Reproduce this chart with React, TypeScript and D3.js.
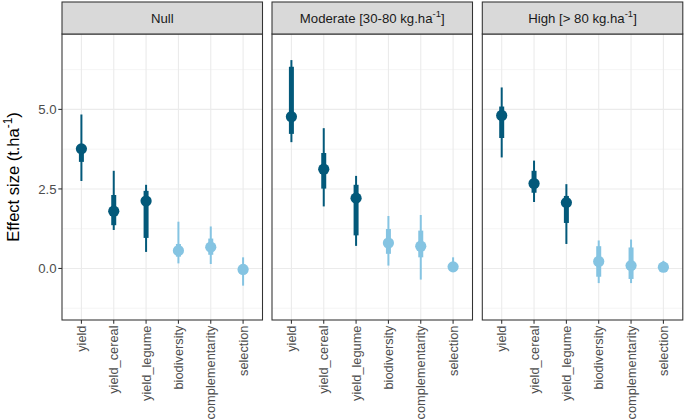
import React from "react";
import * as d3 from "d3";

// categories on the x axis of every facet
const categories = ["yield", "yield_cereal", "yield_legume", "biodiversity", "complementarity", "selection"];
const darkCategories = ["yield", "yield_cereal", "yield_legume"];
const facetNames = ["Null", "Moderate", "High"];
const yTicks = [0, 2.5, 5];
const yMinor = [-1.25, 1.25, 3.75, 6.25];

// Null
const nullEst = [3.76, 1.8, 2.12, 0.56, 0.67, -0.03];
const nullInner = [[3.35, 3.91], [1.36, 2.31], [0.96, 2.44], [0.37, 0.77], [0.43, 0.94], [-0.18, 0.12]];
const nullOuter = [[2.75, 4.84], [1.21, 3.07], [0.52, 2.63], [0.16, 1.47], [0.14, 1.32], [-0.54, 0.35]];

// Moderate [30-80 kg.ha-1]
const modEst = [4.77, 3.12, 2.21, 0.8, 0.7, 0.05];
const modInner = [[4.23, 6.34], [2.51, 3.63], [1.04, 2.63], [0.46, 1.24], [0.35, 1.19], [-0.02, 0.15]];
const modOuter = [[3.97, 6.55], [1.95, 4.41], [0.71, 2.91], [0.09, 1.65], [-0.35, 1.68], [-0.1, 0.35]];

// High [> 80 kg.ha-1]
const highEst = [4.81, 2.67, 2.07, 0.22, 0.09, 0.04];
const highInner = [[4.1, 5.09], [2.38, 3.07], [1.43, 2.28], [-0.26, 0.7], [-0.33, 0.66], [-0.02, 0.12]];
const highOuter = [[3.49, 5.69], [2.09, 3.39], [0.77, 2.65], [-0.46, 0.88], [-0.46, 0.91], [-0.1, 0.24]];

const DARK = "#03597A";
const LIGHT = "#85C4E2";
const FONT = "'Liberation Sans', Arial, sans-serif";

function Superscript({ pre, post, size }: { pre: string; post: string; size: number }) {
  return (
    <>
      {pre}
      <tspan fontSize={size * 0.72} dy={-size * 0.45}>-1</tspan>
      <tspan dy={size * 0.45}>{post}</tspan>
    </>
  );
}

export default function App() {
  const width = 685;
  const height = 420;
  const panelTop = 34;
  const panelBottom = 320;
  const stripTop = 2;
  const panelW = 200.5;
  const panelLefts = [62, 272, 482.3];

  const y = d3.scaleLinear().domain([-1.62, 7.37]).range([panelBottom, panelTop]);

  const facets = [
    { name: facetNames[0], est: nullEst, inner: nullInner, outer: nullOuter },
    { name: facetNames[1], est: modEst, inner: modInner, outer: modOuter },
    { name: facetNames[2], est: highEst, inner: highInner, outer: highOuter },
  ];

  const stripLabel = (i: number) => {
    if (i === 0) return "Null";
    if (i === 1) return <Superscript pre="Moderate [30-80 kg.ha" post="]" size={13.2} />;
    return <Superscript pre="High [> 80 kg.ha" post="]" size={13.2} />;
  };

  return (
    <svg width={width} height={height} style={{ position: "absolute", left: 0, top: 0 }} fontFamily={FONT}>
      <rect width={width} height={height} fill="white" />
      {facets.map((f, fi) => {
        const left = panelLefts[fi];
        const x = d3.scalePoint<string>().domain(categories).range([left, left + panelW]).padding(0.6);
        return (
          <g key={f.name}>
            {/* grid */}
            {yMinor.map((t) => (
              <line key={"m" + t} x1={left} x2={left + panelW} y1={y(t)} y2={y(t)} stroke="#EBEBEB" strokeWidth={0.55} />
            ))}
            {yTicks.map((t) => (
              <line key={"M" + t} x1={left} x2={left + panelW} y1={y(t)} y2={y(t)} stroke="#EBEBEB" strokeWidth={1.1} />
            ))}
            {categories.map((c) => (
              <line key={"v" + c} x1={x(c)} x2={x(c)} y1={panelTop} y2={panelBottom} stroke="#EBEBEB" strokeWidth={1.1} />
            ))}
            {/* intervals */}
            {categories.map((c, i) => {
              const col = darkCategories.includes(c) ? DARK : LIGHT;
              const cx = x(c) as number;
              return (
                <g key={"d" + c}>
                  <line x1={cx} x2={cx} y1={y(f.outer[i][0])} y2={y(f.outer[i][1])} stroke={col} strokeWidth={2} />
                  <line x1={cx} x2={cx} y1={y(f.inner[i][0])} y2={y(f.inner[i][1])} stroke={col} strokeWidth={5} />
                  <circle cx={cx} cy={y(f.est[i])} r={5.6} fill={col} />
                </g>
              );
            })}
            {/* border */}
            <rect x={left} y={panelTop} width={panelW} height={panelBottom - panelTop} fill="none" stroke="#333333" strokeWidth={1.07} />
            {/* strip */}
            <rect x={left} y={stripTop} width={panelW} height={panelTop - stripTop} fill="#D9D9D9" stroke="#333333" strokeWidth={1.07} />
            <text x={left + panelW / 2} y={(stripTop + panelTop) / 2} dy="0.35em" textAnchor="middle" fontSize={13.2} fill="#1A1A1A">
              {stripLabel(fi)}
            </text>
            {/* x axis */}
            {categories.map((c) => {
              const cx = x(c) as number;
              return (
                <g key={"t" + c}>
                  <line x1={cx} x2={cx} y1={panelBottom} y2={panelBottom + 3.7} stroke="#333333" strokeWidth={1.07} />
                  <text
                    transform={`translate(${cx},${panelBottom + 5.5}) rotate(-90)`}
                    textAnchor="end"
                    dy="0.35em"
                    fontSize={12.8}
                    fill="#4D4D4D"
                  >
                    {c}
                  </text>
                </g>
              );
            })}
          </g>
        );
      })}
      {/* y axis */}
      {yTicks.map((t) => (
        <g key={"y" + t}>
          <line x1={panelLefts[0] - 3.7} x2={panelLefts[0]} y1={y(t)} y2={y(t)} stroke="#333333" strokeWidth={1.07} />
          <text x={panelLefts[0] - 5.5} y={y(t)} dy="0.35em" textAnchor="end" fontSize={13.2} fill="#4D4D4D">
            {d3.format(".1f")(t)}
          </text>
        </g>
      ))}
      <text transform={`translate(19,${(panelTop + panelBottom) / 2}) rotate(-90)`} textAnchor="middle" fontSize={16.5} fill="black">
        <Superscript pre="Effect size (t.ha" post=")" size={16.5} />
      </text>
    </svg>
  );
}
